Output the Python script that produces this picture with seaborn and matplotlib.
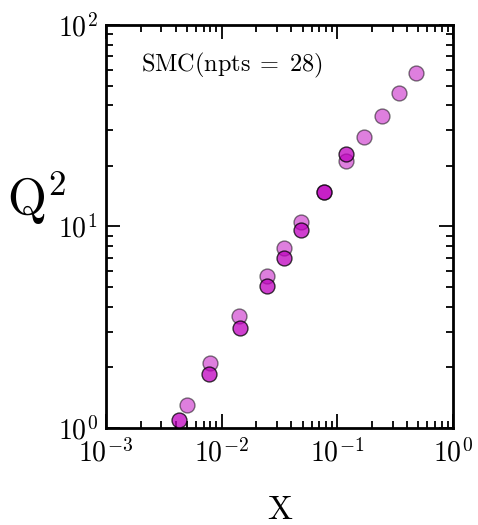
import matplotlib
matplotlib.use("Agg")
import matplotlib.pyplot as plt
import seaborn as sns
import pandas as pd

# light series
x_light = [0.00497, 0.00798, 0.0140, 0.0249, 0.0348, 0.0484, 0.0771, 0.120, 0.171, 0.242, 0.340, 0.477]
q2_light = [1.30, 2.11, 3.61, 5.70, 7.82, 10.5, 14.8, 21.1, 27.7, 35.5, 45.8, 58.0]
# dark series
x_dark = [0.00428, 0.00781, 0.0144, 0.0246, 0.0344, 0.0484, 0.0771, 0.120]
q2_dark = [1.10, 1.85, 3.15, 5.09, 7.00, 9.6, 14.8, 22.8]

annotation = "SMC(npts = 28)"

sns.set_style("ticks")
plt.rcParams['font.family'] = ['serif']
plt.rcParams['font.serif'] = ['cmr10', 'DejaVu Serif']
plt.rcParams['mathtext.fontset'] = 'cm'
plt.rcParams['axes.formatter.use_mathtext'] = True
plt.rcParams['axes.unicode_minus'] = False

fig = plt.figure(figsize=(4.78, 5.25), dpi=100)
ax = fig.add_axes([106/478, 1-428/525, 347/478, 403/525])

df_l = pd.DataFrame({"x": x_light, "q2": q2_light})
df_d = pd.DataFrame({"x": x_dark, "q2": q2_dark})
sns.scatterplot(data=df_l, x="x", y="q2", ax=ax, color="#bf00bf", alpha=0.5,
                s=115, edgecolor="black", linewidth=1.0, zorder=3)
sns.scatterplot(data=df_d, x="x", y="q2", ax=ax, color="#bf00bf", alpha=0.75,
                s=115, edgecolor="black", linewidth=1.0, zorder=4)

ax.set_xscale("log")
ax.set_yscale("log")
ax.set_xlim(1e-3, 1)
ax.set_ylim(1, 100)

ax.tick_params(which="both", direction="in", top=True, right=True, labelsize=20,
               width=1.3, pad=6, color="black", labelcolor="black")
ax.tick_params(axis="x", which="both", pad=8)
ax.tick_params(which="major", length=10)
ax.tick_params(which="minor", length=5)
for sp in ax.spines.values():
    sp.set_linewidth(2)
    sp.set_color("black")

ax.set_xlabel("X", fontsize=24, labelpad=20, color="black")
ax.set_ylabel(r"$\mathrm{Q}^2$", fontsize=36, rotation=0, va="center", color="black")
ax.yaxis.set_label_coords(-0.2, 0.57)

name, rest = annotation.split("=")
ax.text(0.1, 0.9, r"$\mathrm{" + name.strip() + r"}\;=\;\mathrm{" + rest.strip() + r"}$",
        transform=ax.transAxes, fontsize=17.5, ha="left", va="center", color="black")

fig.savefig("out.png", dpi=100)
